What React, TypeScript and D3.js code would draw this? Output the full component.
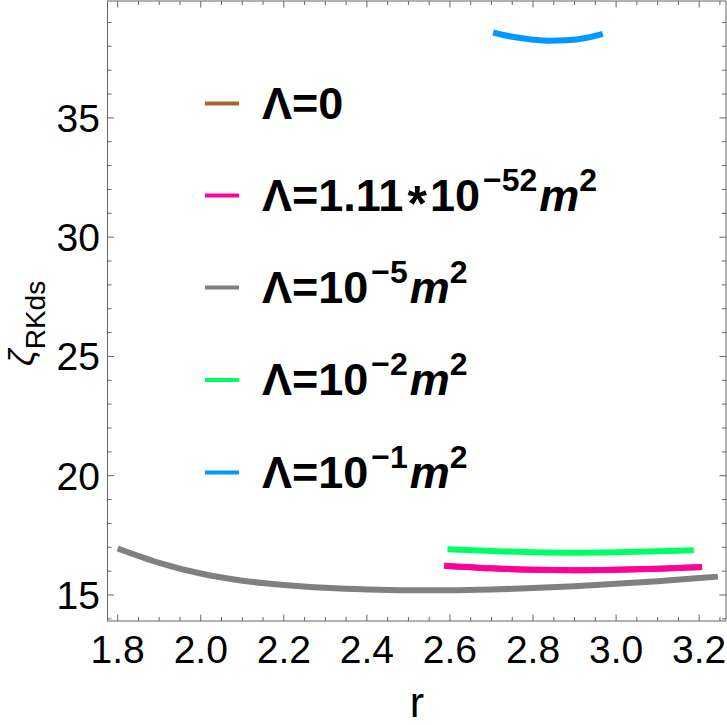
import React, { useEffect, useRef } from 'react';
import * as d3 from 'd3';

// curves
const rGray = [1.8, 1.9, 2.0, 2.1, 2.2, 2.3, 2.4, 2.5, 2.6, 2.7, 2.8, 2.9, 3.0, 3.1, 3.2, 3.245];
const zGray = [16.95, 16.35, 15.9, 15.6, 15.42, 15.3, 15.23, 15.2, 15.2, 15.23, 15.29, 15.37, 15.47, 15.58, 15.71, 15.77];

const rPink = [2.586, 2.7, 2.8, 2.9, 3.0, 3.1, 3.207];
const zPink = [16.23, 16.12, 16.06, 16.04, 16.06, 16.1, 16.17];

// Λ=0 coincides with Λ=1.11e-52 and sits under it
const rBrown = [2.586, 2.7, 2.8, 2.9, 3.0, 3.1, 3.207];
const zBrown = [16.23, 16.12, 16.06, 16.04, 16.06, 16.1, 16.17];

const rGreen = [2.594, 2.7, 2.8, 2.9, 3.0, 3.1, 3.187];
const zGreen = [16.92, 16.84, 16.79, 16.77, 16.79, 16.83, 16.88];

const rBlue = [2.704, 2.75, 2.8, 2.84, 2.88, 2.93, 2.968];
const zBlue = [38.58, 38.4, 38.28, 38.23, 38.25, 38.36, 38.52];

const xTicks = [1.8, 2.0, 2.2, 2.4, 2.6, 2.8, 3.0, 3.2];
const yTicks = [15, 20, 25, 30, 35];

const legendBase = ['Λ=0', 'Λ=1.11', 'Λ=10', 'Λ=10', 'Λ=10'];
const legendExp = ['', '−52', '−5', '−2', '−1'];
const colors = ['#a0672f', '#ff0099', '#808080', '#00ff66', '#0099ff'];

const FONT = '"Liberation Sans", Arial, sans-serif';

export default function App() {
  const svgRef = useRef<SVGSVGElement>(null);

  useEffect(() => {
    if (!svgRef.current) return;
    const svg = d3.select(svgRef.current);
    svg.selectAll('*').remove();

    const left = 107.5, right = 726, top = 1, bottom = 621;
    const x = d3.scaleLinear().domain([1.7755, 3.2646]).range([left, right]);
    const y = d3.scaleLinear().domain([13.91, 39.9]).range([bottom, top]);

    const axisColor = '#666666';

    // frame
    svg.append('rect')
      .attr('x', left).attr('y', top)
      .attr('width', right - left).attr('height', bottom - top)
      .attr('fill', 'none').attr('stroke', axisColor).attr('stroke-width', 1);

    // ticks (inward on all sides)
    const xMinor = d3.range(1.8, 3.2646, 0.05);
    const yMinor = d3.range(14, 39.91, 1);
    const g = svg.append('g').attr('stroke', axisColor).attr('stroke-width', 1);
    xMinor.forEach(v => {
      const major = xTicks.some(t => Math.abs(t - v) < 1e-6);
      const len = major ? 6.5 : 4;
      g.append('line').attr('x1', x(v)).attr('x2', x(v)).attr('y1', bottom).attr('y2', bottom - len);
      g.append('line').attr('x1', x(v)).attr('x2', x(v)).attr('y1', top).attr('y2', top + len);
    });
    yMinor.forEach(v => {
      const major = yTicks.some(t => Math.abs(t - v) < 1e-6);
      const len = major ? 6.5 : 4;
      g.append('line').attr('x1', left).attr('x2', left + len).attr('y1', y(v)).attr('y2', y(v));
      g.append('line').attr('x1', right).attr('x2', right - len).attr('y1', y(v)).attr('y2', y(v));
    });

    // tick labels
    svg.append('g').selectAll('text').data(xTicks).enter().append('text')
      .attr('x', d => x(d)).attr('y', 663)
      .attr('text-anchor', 'middle')
      .style('font-family', FONT).style('font-size', '39px')
      .text(d => d.toFixed(1));
    svg.append('g').selectAll('text').data(yTicks).enter().append('text')
      .attr('x', 100).attr('y', d => y(d) + 14)
      .attr('text-anchor', 'end')
      .style('font-family', FONT).style('font-size', '39px')
      .text(d => String(d));

    // axis titles
    svg.append('text')
      .attr('x', 417).attr('y', 716.5)
      .attr('text-anchor', 'middle')
      .style('font-family', FONT).style('font-size', '43px')
      .text('r');

    const yl = svg.append('text')
      .attr('transform', 'translate(34,366) rotate(-90)')
      .style('font-family', FONT);
    yl.append('tspan').style('font-size', '36px').style('font-style', 'italic').text('ζ');
    yl.append('tspan').attr('dy', 11).style('font-size', '28px').text('RKds');

    // curves
    const line = d3.line<[number, number]>()
      .x(d => x(d[0]))
      .y(d => y(d[1]))
      .curve(d3.curveMonotoneX);

    const series: [number[], number[], string][] = [
      [rBrown, zBrown, colors[0]],
      [rGray, zGray, colors[2]],
      [rPink, zPink, colors[1]],
      [rGreen, zGreen, colors[3]],
      [rBlue, zBlue, colors[4]],
    ];
    series.forEach(([rs, zs, c]) => {
      svg.append('path')
        .datum(rs.map((r, i) => [r, zs[i]] as [number, number]))
        .attr('fill', 'none')
        .attr('stroke', c)
        .attr('stroke-width', 6)
        .attr('d', line);
    });

    // legend
    const rowY = [103.5, 195.5, 287.5, 380, 472.5];
    legendBase.forEach((label, i) => {
      svg.append('line')
        .attr('x1', 205).attr('x2', 239)
        .attr('y1', rowY[i]).attr('y2', rowY[i])
        .attr('stroke', colors[i]).attr('stroke-width', 4);
      const t = svg.append('text')
        .attr('x', 262).attr('y', rowY[i] + 15)
        .style('font-family', FONT).style('font-weight', 'bold').style('font-size', '45px');
      t.append('tspan').text(label);
      if (i === 1) {
        t.append('tspan').attr('dy', 10).attr('dx', 4).style('font-size', '50px').text('*');
        t.append('tspan').attr('dy', -10).attr('dx', 3).text('10');
      }
      if (legendExp[i]) {
        t.append('tspan').attr('dy', -20).attr('dx', 3).style('font-size', '32px').text(legendExp[i]);
        t.append('tspan').attr('dy', 20).attr('dx', 2).style('font-style', 'italic').text('m');
        t.append('tspan').attr('dy', -20).style('font-size', '32px').text('2');
      }
    });
  }, []);

  return (
    <svg
      ref={svgRef}
      width={727}
      height={725}
      style={{ position: 'absolute', left: 0, top: 0, background: '#fff' }}
    />
  );
}
